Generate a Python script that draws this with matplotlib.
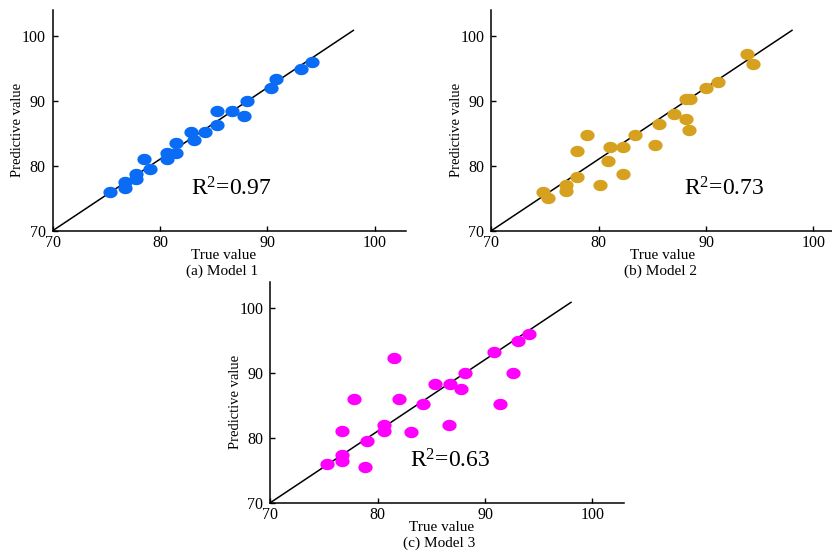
import matplotlib
matplotlib.use("Agg")
import matplotlib.pyplot as plt
import numpy as np
from matplotlib.path import Path

plt.rcParams["font.family"] = ["Liberation Serif", "DejaVu Serif"]
plt.rcParams["mathtext.fontset"] = "custom"
plt.rcParams["mathtext.rm"] = "Liberation Serif"
plt.rcParams["mathtext.it"] = "Liberation Serif:italic"

# Model 1
true1 = [75.3, 76.7, 76.7, 77.8, 77.8, 78.5, 79.1, 80.6, 80.6, 81.5, 81.5, 82.9,
         83.2, 84.2, 85.3, 85.3, 86.7, 87.8, 88.1, 90.3, 90.8, 93.1, 94.1]
pred1 = [75.9, 77.5, 76.5, 78.7, 77.9, 81.1, 79.5, 81.9, 81.0, 83.5, 81.9, 85.1,
         84.0, 85.1, 88.4, 86.3, 88.4, 87.6, 90.0, 92.0, 93.3, 94.8, 96.0]
# Model 2
true2 = [74.8, 75.3, 77.0, 77.0, 78.0, 78.0, 78.9, 80.1, 80.9, 81.1, 82.3, 82.3,
         83.4, 85.2, 85.6, 87.0, 88.1, 88.1, 88.5, 88.4, 90.0, 91.1, 93.8, 94.4]
pred2 = [75.9, 75.0, 77.1, 76.1, 82.3, 78.3, 84.7, 77.1, 80.7, 82.8, 82.8, 78.7,
         84.7, 83.2, 86.4, 88.0, 87.2, 90.3, 90.3, 85.5, 92.0, 92.9, 97.2, 95.6]
# Model 3
true3 = [75.3, 76.7, 76.7, 76.7, 77.8, 78.8, 79.0, 80.6, 80.6, 81.5, 82.0, 83.1,
         84.2, 85.3, 86.6, 86.7, 87.8, 88.1, 90.8, 91.4, 92.6, 93.1, 94.1]
pred3 = [75.9, 77.4, 76.4, 81.0, 85.9, 75.5, 79.5, 81.9, 81.0, 92.3, 85.9, 80.9,
         85.1, 88.3, 81.9, 88.3, 87.5, 89.9, 93.2, 85.1, 89.9, 94.8, 96.0]

r2 = ["0.97", "0.73", "0.63"]
captions = ["(a) Model 1", "(b) Model 2", "(c) Model 3"]
colors = ["#0a6cf5", "#d6a11e", "#ff00ff"]

# slightly flattened ellipse used as the marker
t = np.linspace(0, 2 * np.pi, 60)
ellipse = Path(np.column_stack([np.cos(t), 0.8 * np.sin(t)]), closed=True)

fig = plt.figure(figsize=(8.32, 5.55), dpi=100)
W, H = 832, 555


def make_axes(left_px, bottom_px, w_px=353.3, h_px=220.5):
    return fig.add_axes([left_px / W, 1 - bottom_px / H, w_px / W, h_px / H])


axes = [make_axes(52.7, 230.7), make_axes(491.3, 230.7), make_axes(270.3, 502.7)]
data = [(true1, pred1), (true2, pred2), (true3, pred3)]
r2pos = [(0.507, 0.19), (0.66, 0.19), (0.508, 0.19)]

for ax, (tx, py), c, r, cap, rp in zip(axes, data, colors, r2, captions, r2pos):
    ax.plot([70, 98], [70, 100.8], color="k", lw=1.1, zorder=1)
    ax.scatter(tx, py, s=105, color=c, marker=ellipse, linewidths=0, zorder=2)
    ax.set_xlim(70, 102.9)
    ax.set_ylim(70, 103.9)
    ax.set_xticks([70, 80, 90, 100])
    ax.set_yticks([70, 80, 90, 100])
    for s in ["top", "right"]:
        ax.spines[s].set_visible(False)
    for s in ["left", "bottom"]:
        ax.spines[s].set_linewidth(1.1)
    ax.tick_params(direction="in", length=3.5, width=1, labelsize=11.5)
    ax.tick_params(axis="x", pad=3)
    ax.tick_params(axis="y", pad=5)
    ax.set_xlabel("True value", fontsize=11)
    ax.xaxis.set_label_coords(0.485, -0.085)
    ax.set_ylabel("Predictive value", fontsize=10.5)
    ax.yaxis.set_label_coords(-0.08, 0.456)
    ax.text(rp[0], rp[1], "R$^{2}$=" + r, transform=ax.transAxes,
            fontsize=17, ha="center", va="center")
    ax.text(0.478, -0.185, cap, transform=ax.transAxes,
            fontsize=11, ha="center", va="center")

fig.savefig("out.png", dpi=100)
